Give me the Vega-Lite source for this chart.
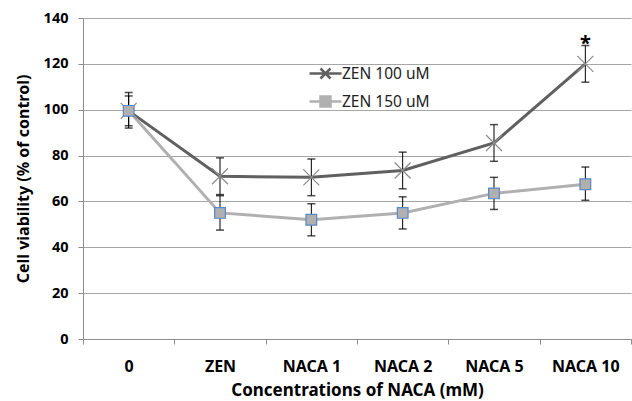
{
  "$schema": "https://vega.github.io/schema/vega-lite/v6.json",
  "width": 548,
  "height": 321,
  "autosize": {"type": "none"},
  "padding": {"left": 83, "top": 18, "right": 1, "bottom": 62},
  "background": "white",
  "config": {
    "view": {"stroke": null},
    "font": "Noto Sans",
    "axis": {
      "labelFont": "Noto Sans",
      "titleFont": "Noto Sans",
      "labelFontWeight": "bold",
      "titleFontWeight": "bold",
      "labelColor": "#000000",
      "titleColor": "#000000",
      "domainColor": "#8c8c8c",
      "tickColor": "#8c8c8c",
      "gridColor": "#a6a6a6"
    }
  },
  "data": {
    "values": [
      {"conc": "0", "series": "ZEN 100 uM", "mean": 99.5, "lo": 92, "hi": 107.5},
      {"conc": "ZEN", "series": "ZEN 100 uM", "mean": 71, "lo": 63, "hi": 79},
      {"conc": "NACA 1", "series": "ZEN 100 uM", "mean": 70.5, "lo": 62.5, "hi": 78.5},
      {"conc": "NACA 2", "series": "ZEN 100 uM", "mean": 73.5, "lo": 65.5, "hi": 81.5},
      {"conc": "NACA 5", "series": "ZEN 100 uM", "mean": 85.5, "lo": 77.5, "hi": 93.5},
      {"conc": "NACA 10", "series": "ZEN 100 uM", "mean": 120, "lo": 112, "hi": 128},
      {"conc": "0", "series": "ZEN 150 uM", "mean": 99.5, "lo": 93, "hi": 106},
      {"conc": "ZEN", "series": "ZEN 150 uM", "mean": 55, "lo": 47.5, "hi": 62.5},
      {"conc": "NACA 1", "series": "ZEN 150 uM", "mean": 52, "lo": 45, "hi": 59},
      {"conc": "NACA 2", "series": "ZEN 150 uM", "mean": 55, "lo": 48, "hi": 62},
      {"conc": "NACA 5", "series": "ZEN 150 uM", "mean": 63.5, "lo": 56.5, "hi": 70.5},
      {"conc": "NACA 10", "series": "ZEN 150 uM", "mean": 67.5, "lo": 60.5, "hi": 75}
    ]
  },
  "encoding": {
    "x": {
      "field": "conc",
      "type": "ordinal",
      "sort": ["0", "ZEN", "NACA 1", "NACA 2", "NACA 5", "NACA 10"],
      "scale": {"type": "band", "paddingInner": 0, "paddingOuter": 0},
      "bandPosition": 0.5,
      "axis": {
        "title": "Concentrations of NACA (mM)",
        "labelAngle": 0,
        "labelFontSize": 16,
        "titleFontSize": 17,
        "tickBand": "extent",
        "tickSize": 5,
        "labelPadding": 14,
        "titlePadding": 8,
        "grid": false
      }
    }
  },
  "layer": [
    {
      "mark": {"type": "rule", "color": "#000000", "strokeWidth": 1},
      "encoding": {
        "y": {"field": "lo", "type": "quantitative"},
        "y2": {"field": "hi"}
      }
    },
    {
      "mark": {"type": "tick", "color": "#000000", "orient": "horizontal", "size": 8, "thickness": 1.5},
      "encoding": {"y": {"field": "lo", "type": "quantitative"}}
    },
    {
      "mark": {"type": "tick", "color": "#000000", "orient": "horizontal", "size": 8, "thickness": 1.5},
      "encoding": {"y": {"field": "hi", "type": "quantitative"}}
    },
    {
      "mark": {"type": "line", "strokeWidth": 3},
      "encoding": {
        "y": {
          "field": "mean",
          "type": "quantitative",
          "scale": {"domain": [0, 140]},
          "axis": {
            "title": "Cell viability (% of control)",
            "values": [0, 20, 40, 60, 80, 100, 120, 140],
            "labelFontSize": 14.5,
            "titleFontSize": 16,
            "tickSize": 5,
            "labelPadding": 10,
            "titlePadding": 12,
            "grid": true
          }
        },
        "color": {
          "field": "series",
          "type": "nominal",
          "scale": {"domain": ["ZEN 100 uM", "ZEN 150 uM"], "range": ["#606060", "#b0b0b0"]},
          "legend": {
            "title": null,
            "orient": "none",
            "legendX": 231,
            "legendY": 44,
            "symbolSize": 400,
            "rowPadding": 6,
            "labelOffset": 5,
            "labelFontSize": 15.5,
            "labelFont": "Noto Sans",
            "labelColor": "#222222",
            "encode": {
              "symbols": {
                "update": {
                  "shape": {"signal": "datum.value === 'ZEN 100 uM' ? 'M-1.6,0H1.6M-0.5,-0.5L0.5,0.5M-0.5,0.5L0.5,-0.5' : 'M-1.6,0H-0.5M0.5,0H1.6M-0.5,-0.5H0.5V0.5H-0.5Z'"},
                  "fill": {"signal": "datum.value === 'ZEN 100 uM' ? 'transparent' : '#b0b0b0'"},
                  "stroke": {"signal": "datum.value === 'ZEN 100 uM' ? '#606060' : '#a8a8a8'"},
                  "strokeWidth": {"value": 2.5},
                  "opacity": {"value": 1}
                }
              }
            }
          }
        }
      }
    },
    {
      "transform": [{"filter": "datum.series === 'ZEN 100 uM'"}],
      "mark": {"type": "point", "shape": "M-1,-1L1,1M-1,1L1,-1", "size": 256, "filled": false, "stroke": "#8c8c8c", "strokeWidth": 1.2, "opacity": 1},
      "encoding": {"y": {"field": "mean", "type": "quantitative"}}
    },
    {
      "transform": [{"filter": "datum.series === 'ZEN 150 uM'"}],
      "mark": {"type": "point", "shape": "square", "size": 115, "filled": true, "fill": "#b0b0b0", "stroke": "#5b87c5", "strokeWidth": 1.2, "opacity": 1},
      "encoding": {"y": {"field": "mean", "type": "quantitative"}}
    },
    {
      "data": {"values": [{"conc": "NACA 10", "y": 130, "label": "*"}]},
      "mark": {"type": "text", "fontSize": 20, "fontWeight": "bold", "color": "#000000", "baseline": "middle", "dy": 3},
      "encoding": {
        "y": {"field": "y", "type": "quantitative"},
        "text": {"field": "label"}
      }
    }
  ]
}
